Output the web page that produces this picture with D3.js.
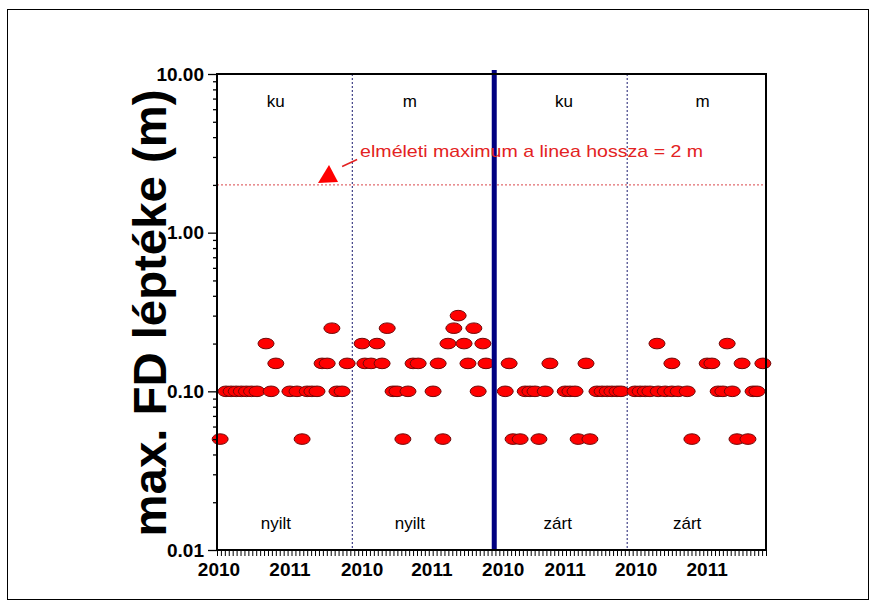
<!DOCTYPE html>
<html lang="en">
<head>
  <meta charset="UTF-8">
  <title>max. FD léptéke</title>
  <script src="https://d3js.org/d3.v7.min.js"></script>
  <style>
    body { margin: 0; background: #fff; }
    text { font-family: Arial, "Liberation Sans", sans-serif; }
  </style>
</head>
<body>
  <script>
    // points per block: [position on the time index, max FD scale in m]
    var kuNyilt = [
      [0.8, 0.05], [2.3, 0.1], [3.6, 0.1], [4.9, 0.1], [6.2, 0.1], [7.5, 0.1], [8.8, 0.1], [10.2, 0.1],
      [12.5, 0.2], [13.8, 0.1], [15.0, 0.15], [18.6, 0.1], [20.4, 0.1], [21.7, 0.05], [23.0, 0.1],
      [24.2, 0.1], [25.5, 0.1], [26.8, 0.15], [28.1, 0.15], [29.3, 0.25], [30.6, 0.1], [31.9, 0.1], [33.2, 0.15]
    ];
    var mNyilt = [
      [37.0, 0.2], [37.7, 0.15], [39.3, 0.15], [40.8, 0.2], [42.1, 0.15], [43.4, 0.25], [44.9, 0.1],
      [45.9, 0.1], [47.4, 0.05], [48.7, 0.1], [50.0, 0.15], [51.3, 0.15], [55.1, 0.1], [56.4, 0.15],
      [57.6, 0.05], [58.9, 0.2], [60.4, 0.25], [61.5, 0.3], [63.0, 0.2], [64.0, 0.15], [65.5, 0.25],
      [66.6, 0.1], [67.8, 0.2], [68.6, 0.15]
    ];
    var kuZart = [
      [73.5, 0.1], [74.5, 0.15], [75.5, 0.05], [77.3, 0.05], [78.6, 0.1], [79.8, 0.1], [81.1, 0.1],
      [82.1, 0.05], [83.7, 0.1], [84.9, 0.15], [88.8, 0.1], [90.0, 0.1], [91.3, 0.1], [92.1, 0.05],
      [94.1, 0.15], [95.1, 0.05], [96.9, 0.1], [98.2, 0.1], [99.5, 0.1], [100.7, 0.1], [102.0, 0.1], [103.0, 0.1]
    ];
    var mZart = [
      [106.6, 0.1], [107.9, 0.1], [109.2, 0.1], [110.4, 0.1], [112.2, 0.2], [112.5, 0.1], [114.3, 0.1],
      [116.0, 0.15], [116.0, 0.1], [117.6, 0.1], [119.9, 0.1], [121.1, 0.05], [125.0, 0.15], [126.2, 0.15],
      [127.8, 0.1], [129.0, 0.1], [130.1, 0.2], [131.4, 0.1], [132.6, 0.05], [133.9, 0.15], [135.4, 0.05],
      [136.7, 0.1], [137.7, 0.1], [139.2, 0.15]
    ];

    var blockBreaks = [34.5, 104.6];      // dotted separators
    var treatmentBreak = 70.7;            // thick line between nyilt / zárt
    var yearTicks = [0.5, 18.6, 37, 54.8, 73, 88.8, 106.9, 125];
    var yearLabels = ["2010", "2011", "2010", "2011", "2010", "2011", "2010", "2011"];
    var topLabels = [["ku", 15], ["m", 49.2], ["ku", 88.5], ["m", 123.8]];
    var bottomLabels = [["nyilt", 15], ["nyilt", 49.2], ["zárt", 86.9], ["zárt", 119.9]];
    var yTickValues = [0.01, 0.1, 1, 10];
    var theoreticalMax = 2;

    var width = 877, height = 610;
    var svg = d3.select("body").append("svg")
      .attr("width", width)
      .attr("height", height);

    // outer frame
    svg.append("rect")
      .attr("x", 7.5).attr("y", 9.5)
      .attr("width", 861).attr("height", 590)
      .attr("fill", "none").attr("stroke", "#000").attr("stroke-width", 1);

    var x = d3.scaleLinear().domain([0, 140]).range([217, 766]);
    var y = d3.scaleLog().domain([0.01, 10]).range([550, 74]);

    // theoretical maximum line
    svg.append("line")
      .attr("x1", x(0)).attr("x2", x(140))
      .attr("y1", y(theoreticalMax)).attr("y2", y(theoreticalMax))
      .attr("stroke", "#d9464a").attr("stroke-width", 1)
      .attr("stroke-dasharray", "2,2");

    // dotted block separators
    svg.selectAll(".sep")
      .data(blockBreaks)
      .enter().append("line")
      .attr("class", "sep")
      .attr("x1", d => x(d)).attr("x2", d => x(d))
      .attr("y1", y(10)).attr("y2", y(0.01))
      .attr("stroke", "#1a1a6e").attr("stroke-width", 1)
      .attr("stroke-dasharray", "2,2");

    // points, drawn left to right
    var allPoints = kuNyilt.concat(mNyilt, kuZart, mZart)
      .sort((a, b) => a[0] - b[0]);

    svg.selectAll(".pt")
      .data(allPoints)
      .enter().append("ellipse")
      .attr("class", "pt")
      .attr("cx", d => x(d[0]))
      .attr("cy", d => y(d[1]))
      .attr("rx", 8).attr("ry", 5.3)
      .attr("fill", "#ff0000")
      .attr("stroke", "#6e0a0a").attr("stroke-width", 1);

    // thick treatment divider
    svg.append("line")
      .attr("x1", x(treatmentBreak)).attr("x2", x(treatmentBreak))
      .attr("y1", y(10) - 4).attr("y2", y(0.01))
      .attr("stroke", "#000080").attr("stroke-width", 5);

    // plot frame
    svg.append("rect")
      .attr("x", x(0)).attr("y", y(10))
      .attr("width", x(140) - x(0)).attr("height", y(0.01) - y(10))
      .attr("fill", "none").attr("stroke", "#000").attr("stroke-width", 2);

    // y axis with log minor ticks
    var minor = [];
    [0.01, 0.1, 1].forEach(function(dec) {
      for (var k = 2; k <= 9; k++) minor.push(dec * k);
    });
    var yAxis = svg.append("g").attr("transform", "translate(" + x(0) + ",0)");
    yAxis.call(d3.axisLeft(y).tickValues(minor).tickSize(4).tickFormat(""))
      .call(g => g.select(".domain").remove());
    var yMajor = svg.append("g").attr("transform", "translate(" + x(0) + ",0)")
      .call(d3.axisLeft(y).tickValues(yTickValues).tickSize(9).tickPadding(4)
        .tickFormat(d3.format(".2f")));
    yMajor.select(".domain").remove();
    svg.selectAll(".tick line").attr("stroke", "#000").attr("stroke-width", 1.3);
    yMajor.selectAll("text")
      .attr("font-size", 19).attr("font-weight", "bold").attr("fill", "#000")
      .style("font-family", "Arial, 'Liberation Sans', sans-serif");

    // x axis: one tick per index step
    var xAxis = svg.append("g").attr("transform", "translate(0," + y(0.01) + ")")
      .call(d3.axisBottom(x).tickValues(d3.range(0, 141)).tickSize(6).tickFormat(""));
    xAxis.select(".domain").remove();
    xAxis.selectAll(".tick line").attr("stroke", "#000").attr("stroke-width", 1);

    svg.selectAll(".year")
      .data(yearTicks)
      .enter().append("text")
      .attr("class", "year")
      .attr("x", d => x(d))
      .attr("y", 576)
      .attr("text-anchor", "middle")
      .attr("font-size", 19).attr("font-weight", "bold")
      .text((d, i) => yearLabels[i]);

    // block labels
    svg.selectAll(".toplab")
      .data(topLabels)
      .enter().append("text")
      .attr("x", d => x(d[1]))
      .attr("y", y(10) + 33)
      .attr("text-anchor", "middle")
      .attr("font-size", 17)
      .text(d => d[0]);

    svg.selectAll(".botlab")
      .data(bottomLabels)
      .enter().append("text")
      .attr("x", d => x(d[1]))
      .attr("y", y(0.01) - 21)
      .attr("text-anchor", "middle")
      .attr("font-size", 17)
      .text(d => d[0]);

    // annotation with arrow
    var ax = x(36.5), ay = y(3.25);
    svg.append("text")
      .attr("x", ax).attr("y", ay + 6)
      .attr("font-size", 17).attr("fill", "#e32222")
      .attr("textLength", 343).attr("lengthAdjust", "spacingAndGlyphs")
      .text("elméleti maximum a linea hossza = 2 m");
    svg.append("line")
      .attr("x1", ax - 3).attr("y1", ay + 8)
      .attr("x2", ax - 18).attr("y2", ay + 15)
      .attr("stroke", "#e32222").attr("stroke-width", 1.5);
    var tipX = x(27.8), tipY = y(2.12);
    svg.append("path")
      .attr("d", "M" + (tipX - 8) + "," + (tipY + 2) + "L" + (tipX + 12) + "," + (tipY + 1) +
                 "L" + (tipX + 3) + "," + (tipY - 16) + "Z")
      .attr("fill", "#ff0000");

    // y title
    svg.append("text")
      .attr("transform", "translate(166," + 313 + ") rotate(-90)")
      .attr("text-anchor", "middle")
      .attr("font-size", 46).attr("font-weight", "bold")
      .attr("textLength", 447).attr("lengthAdjust", "spacingAndGlyphs")
      .text("max. FD léptéke (m)");
  </script>
</body>
</html>
